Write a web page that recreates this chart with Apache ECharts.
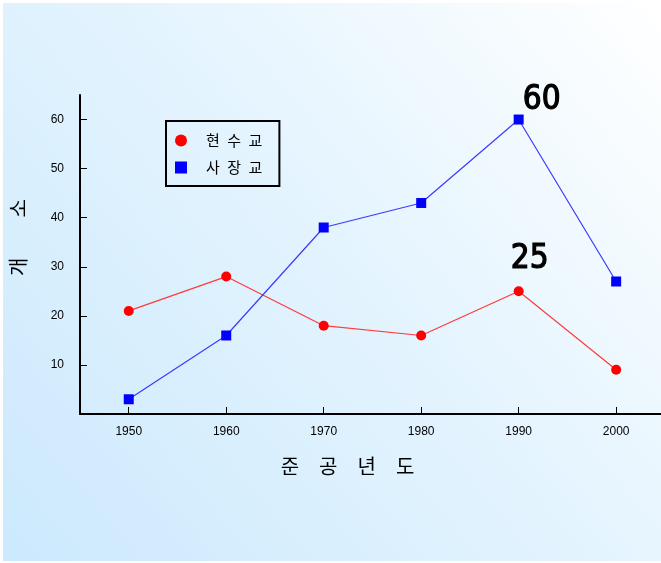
<!DOCTYPE html>
<html>
<head>
<meta charset="utf-8">
<script src="https://cdn.jsdelivr.net/npm/echarts@6/dist/echarts.min.js"></script>
<style>
  html, body { margin: 0; padding: 0; background: #ffffff; }
  #chart { width: 661px; height: 563px; }
</style>
</head>
<body>
<div id="chart"></div>
<script>
// Completion decades (x axis)
const years = [1950, 1960, 1970, 1980, 1990, 2000];
// Number of bridges per decade
const suspension = [21, 28, 18, 16, 25, 9];      // 현수교
const cableStayed = [3, 16, 38, 43, 60, 27];     // 사장교
const yTicks = [10, 20, 30, 40, 50, 60];
const SP = '\u2002';
const seriesNames = ['현' + SP + '수' + SP + '교', '사' + SP + '장' + SP + '교'];
const xTitle = ['준', '공', '년', '도'].join(SP + SP);
const yTitle = ['개', '소'].join(SP + SP + SP + SP);
// Points that carry a value callout
const calloutIndex = 4;

const chart = echarts.init(document.getElementById('chart'), null, { renderer: 'canvas' });

function pairs(values) {
  return years.map((y, i) => [y, values[i]]);
}

function withCallout(values, offset) {
  return pairs(values).map((p, i) => {
    if (i !== calloutIndex) return p;
    return {
      value: p,
      label: {
        show: true,
        position: 'top',
        offset: offset,
        formatter: (d) => String(d.value[1]),
        fontFamily: 'DejaVu Sans Condensed',
        fontSize: 33,
        fontWeight: 'normal',
        color: '#000000',
        textBorderColor: '#000000',
        textBorderWidth: 1.2
      }
    };
  });
}

const option = {
  animation: false,
  graphic: [{
    type: 'rect',
    z: -10,
    silent: true,
    shape: { x: 3, y: 3, width: 658, height: 558 },
    style: {
      fill: new echarts.graphic.LinearGradient(0, 1, 1, 0, [
        { offset: 0, color: '#cce9fd' },
        { offset: 0.5, color: '#e2f3fe' },
        { offset: 1, color: '#ffffff' }
      ])
    }
  }],
  grid: { left: 80, top: 95, width: 581, height: 319, containLabel: false },
  legend: {
    orient: 'vertical',
    left: 166,
    top: 121,
    padding: [12, 17, 11, 9],
    itemGap: 12,
    itemWidth: 12,
    itemHeight: 12,
    borderColor: '#000000',
    borderWidth: 2,
    borderRadius: 0,
    textStyle: {
      fontFamily: 'Noto Sans CJK KR',
      fontSize: 15,
      color: '#000000',
      padding: [0, 0, 0, 14]
    },
    data: [
      { name: seriesNames[0], icon: 'circle' },
      { name: seriesNames[1], icon: 'rect' }
    ]
  },
  xAxis: {
    type: 'value',
    min: 1945,
    max: 2004.6,
    interval: 5,
    name: xTitle,
    nameLocation: 'middle',
    nameGap: 42,
    nameTextStyle: {
      fontFamily: 'Noto Sans CJK KR',
      fontSize: 20,
      color: '#000000',
      padding: [0, 46, 0, 0]
    },
    axisLine: { show: true, onZero: false, lineStyle: { color: '#000000', width: 2 } },
    axisTick: {
      show: true,
      inside: true,
      length: 7,
      lineStyle: { color: '#000000', width: 1 },
      customValues: years
    },
    axisLabel: {
      show: true,
      margin: 12,
      fontFamily: 'Liberation Sans',
      fontSize: 12,
      color: '#000000',
      customValues: years,
      formatter: (v) => String(v)
    },
    splitLine: { show: false }
  },
  yAxis: {
    type: 'value',
    min: 0,
    max: 65,
    interval: 5,
    name: yTitle,
    nameLocation: 'middle',
    nameRotate: 90,
    nameGap: 52,
    nameTextStyle: {
      fontFamily: 'Noto Sans CJK KR',
      fontSize: 20,
      color: '#000000',
      padding: [0, 0, 0, 34]
    },
    axisLine: { show: true, onZero: false, lineStyle: { color: '#000000', width: 2 } },
    axisTick: {
      show: true,
      inside: true,
      length: 7,
      lineStyle: { color: '#000000', width: 1 },
      customValues: yTicks
    },
    axisLabel: {
      show: true,
      margin: 16,
      fontFamily: 'Liberation Sans',
      fontSize: 12,
      color: '#000000',
      customValues: yTicks
    },
    splitLine: { show: false }
  },
  series: [
    {
      name: seriesNames[0],
      type: 'line',
      data: withCallout(suspension, [11, -5]),
      symbol: 'circle',
      symbolSize: 10,
      itemStyle: { color: '#ff0000' },
      lineStyle: { color: '#ff3b3b', width: 1.2 },
      z: 3
    },
    {
      name: seriesNames[1],
      type: 'line',
      data: withCallout(cableStayed, [23, 7]),
      symbol: 'rect',
      symbolSize: 10,
      itemStyle: { color: '#0000ff' },
      lineStyle: { color: '#3b3bff', width: 1.2 },
      z: 4
    }
  ]
};

chart.setOption(option);
</script>
</body>
</html>
